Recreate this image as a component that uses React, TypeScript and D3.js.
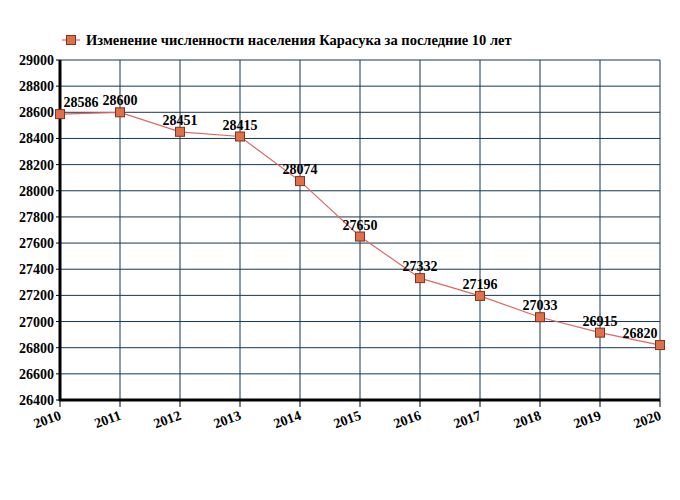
import React from "react";
import * as d3 from "d3";

const years = [2010, 2011, 2012, 2013, 2014, 2015, 2016, 2017, 2018, 2019, 2020];
const population = [28586, 28600, 28451, 28415, 28074, 27650, 27332, 27196, 27033, 26915, 26820];
const yTicks = [26400, 26600, 26800, 27000, 27200, 27400, 27600, 27800, 28000, 28200, 28400, 28600, 28800, 29000];
const legendLabel = "Изменение численности населения Карасука за последние 10 лет";

const W = 680, H = 500;
const left = 60, right = 660, top = 60, bottom = 400;
const font = "'Liberation Serif', 'Times New Roman', serif";

export default function App() {
  const x = d3.scaleLinear().domain([2010, 2020]).range([left, right]);
  const y = d3.scaleLinear().domain([26400, 29000]).range([bottom, top]);
  const line = d3.line<number>().x((_, i) => x(years[i])).y((d) => y(d));
  const grid = "#173850";
  return (
    <svg width={W} height={H} style={{ position: "absolute", left: 0, top: 0, background: "#fff" }}>
      <rect width={W} height={H} fill="#fff" />
      {yTicks.map((t) => (
        <line key={"gy" + t} x1={left} x2={right} y1={y(t)} y2={y(t)} stroke={grid} strokeWidth={1} />
      ))}
      {years.map((yr) => (
        <line key={"gx" + yr} x1={x(yr)} x2={x(yr)} y1={top} y2={bottom} stroke={grid} strokeWidth={1} />
      ))}
      <line x1={left} x2={left} y1={top} y2={bottom + 1} stroke="#000" strokeWidth={3} />
      <line x1={left - 1} x2={right} y1={bottom} y2={bottom} stroke="#000" strokeWidth={3} />
      {yTicks.map((t) => (
        <g key={"ty" + t}>
          <line x1={left - 4} x2={left} y1={y(t)} y2={y(t)} stroke="#000" strokeWidth={1} />
          <text x={left - 6} y={y(t) + 5} textAnchor="end" fontFamily={font} fontWeight="bold" fontSize={14} fill="#000">
            {t}
          </text>
        </g>
      ))}
      {years.map((yr) => (
        <g key={"tx" + yr}>
          <line x1={x(yr)} x2={x(yr)} y1={bottom} y2={bottom + 7} stroke="#000" strokeWidth={1} />
          <text
            transform={`translate(${x(yr) + 2},${bottom + 19}) rotate(-20)`}
            textAnchor="end"
            fontFamily={font}
            fontWeight="bold"
            fontSize={14}
            fill="#000"
          >
            {yr}
          </text>
        </g>
      ))}
      <path d={line(population) || ""} fill="none" stroke="#e06666" strokeWidth={1.2} />
      {population.map((v, i) => (
        <rect
          key={"m" + i}
          x={x(years[i]) - 4.5}
          y={y(v) - 4.5}
          width={9}
          height={9}
          fill="#e07048"
          stroke="#7a3520"
          strokeWidth={1}
        />
      ))}
      {population.map((v, i) => {
        let cx = x(years[i]);
        if (i === 0) cx += 21;
        if (i === population.length - 1) cx -= 20;
        return (
          <text
            key={"l" + i}
            x={cx}
            y={y(v) - 7}
            textAnchor="middle"
            fontFamily={font}
            fontWeight="bold"
            fontSize={14}
            fill="#000"
          >
            {v}
          </text>
        );
      })}
      <line x1={62} x2={80} y1={40} y2={40} stroke="#e06666" strokeWidth={1.2} />
      <rect x={66.5} y={35.5} width={9} height={9} fill="#e07048" stroke="#7a3520" strokeWidth={1} />
      <text x={86} y={45} fontFamily={font} fontWeight="bold" fontSize={14.5} fill="#000">
        {legendLabel}
      </text>
    </svg>
  );
}
